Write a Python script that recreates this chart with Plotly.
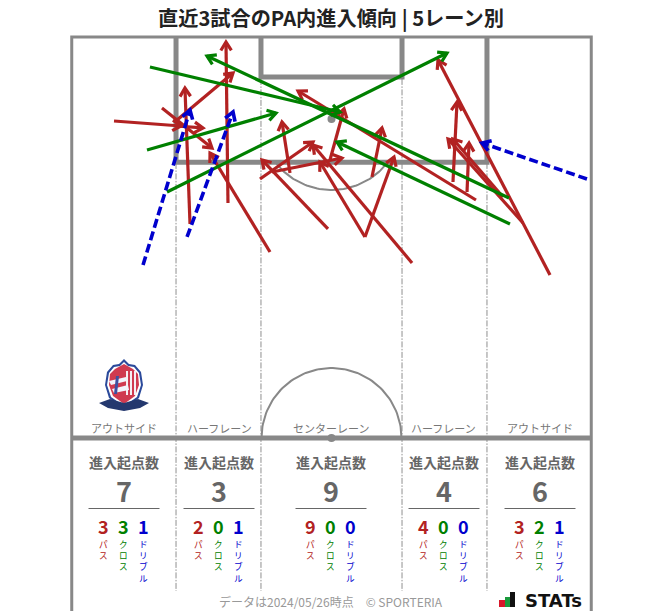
import numpy as np
import plotly.graph_objects as go

W, H = 663, 611
SCALE = 7.64          # pixels per metre
CX, CY = 331.5, 438   # halfway-line centre, in pixels

# ---- data (metres: x across the pitch, y from the halfway line) ----
pass_x0 = [-28.47, -20.35, -22.19, -20.22, -18.52, -13.55, -8.05, -0.46, -9.36, -7.79, -5.43, 4.38, 4.38, 10.54, 5.30, -0.20, 18.91, 15.90, 17.74, 25.07, 22.45, 28.60]
pass_y0 = [41.49, 40.84, 43.19, 41.62, 28.01, 30.76, 24.35, 27.36, 33.90, 34.82, 34.69, 26.31, 26.31, 22.91, 34.16, 36.39, 31.15, 33.51, 32.20, 28.14, 31.54, 21.34]
pass_x1 = [-19.70, -16.82, -15.64, -12.89, -19.18, -13.81, -15.90, -9.10, -2.42, 1.37, -6.48, -1.51, 8.18, -2.42, 6.61, 1.64, -4.38, 16.43, 18.00, 15.25, 15.90, 13.94]
pass_y1 = [40.84, 40.58, 37.96, 47.77, 45.81, 51.83, 37.30, 36.39, 38.74, 36.65, 41.36, 36.13, 36.78, 38.35, 40.58, 43.06, 45.42, 43.98, 38.61, 39.14, 39.14, 49.48]

cross_x0 = [-23.76, -24.15, -21.53, 23.23, 23.36]
cross_y0 = [48.56, 37.70, 32.20, 31.41, 28.01]
cross_x1 = [1.11, -7.26, 15.12, -16.30, 0.72]
cross_y1 = [42.67, 42.54, 50.39, 50.00, 38.74]

dribble_x0 = [-24.67, -18.91, 33.44]
dribble_y0 = [22.64, 26.31, 33.90]
dribble_x1 = [-18.52, -12.89, 19.70]
dribble_y1 = [42.93, 42.67, 38.61]

lane_names = ["アウトサイド", "ハーフレーン", "センターレーン", "ハーフレーン", "アウトサイド"]
lane_totals = [7, 3, 9, 4, 6]
lane_pass = [3, 2, 9, 4, 3]
lane_cross = [3, 0, 0, 0, 2]
lane_dribble = [1, 1, 0, 0, 1]
type_names = ["パス", "クロス", "ドリブル"]

RED, GREEN, BLUE = "#b22222", "#008000", "#0000cd"
GREY = "#888888"
TEXT = "#666666"
FONT = "Noto Sans CJK JP"

fig = go.Figure()


def line(x, y, color=GREY, width=5, dash="solid"):
    fig.add_trace(go.Scatter(x=x, y=y, mode="lines", hoverinfo="skip",
                             line=dict(color=color, width=width, dash=dash)))


# ---- pitch ----
for lx in (-20.35, -9.23, 9.23, 20.35):
    line([lx, lx], [52.5, -20.03], "#8f8f8f", 1, "6px,1.5px,1.5px,1.5px")
t = np.linspace(0, np.pi, 80)
line(9.16 * np.cos(t), 9.16 * np.sin(t), GREY, 2)
t = np.linspace(np.pi * 1.208, np.pi * 1.792, 60)
line(9.29 * np.cos(t), 41.75 + 9.29 * np.sin(t), GREY, 2)
line([-20.35, -20.35, 20.35, 20.35], [52.5, 36.1, 36.1, 52.5])
line([-9.23, -9.23, 9.23, 9.23], [52.5, 47.25, 47.25, 52.5])
line([-34, -34, 34, 34], [-22.64, 52.5, 52.5, -22.64], GREY, 3)
line([-34, 34], [0, 0], GREY, 5)
fig.add_trace(go.Scatter(x=[0, 0], y=[0, 41.75], mode="markers", hoverinfo="skip",
                         marker=dict(color=GREY, size=8)))


# ---- arrows ----
def arrows(x0, y0, x1, y1, color, width, dash="solid", head=1.3, angle=np.radians(32)):
    sx, sy, hx, hy = [], [], [], []
    for a, b, c, d in zip(x0, y0, x1, y1):
        sx += [a, c, None]
        sy += [b, d, None]
        th = np.arctan2(b - d, a - c)
        hx += [c + head * np.cos(th + angle), c, c + head * np.cos(th - angle), None]
        hy += [d + head * np.sin(th + angle), d, d + head * np.sin(th - angle), None]
    line(sx, sy, color, width, dash)
    line(hx, hy, color, width)


arrows(pass_x0, pass_y0, pass_x1, pass_y1, RED, 3.2)
arrows(cross_x0, cross_y0, cross_x1, cross_y1, GREEN, 3.2)
arrows(dribble_x0, dribble_y0, dribble_x1, dribble_y1, BLUE, 3.6, "9px,4px")


# ---- text helpers (pixel position -> paper) ----
def text(px, py, s, size, color=TEXT, bold=False, yanchor="middle", family=FONT):
    fig.add_annotation(x=px / W, y=1 - py / H, xref="paper", yref="paper", text=f"<b>{s}</b>" if bold else s,
                       showarrow=False, xanchor="center", yanchor=yanchor, borderpad=0,
                       font=dict(family=family, size=size, color=color))


def mx(px):
    return (px - CX) / SCALE


def my(py):
    return (CY - py) / SCALE


def polygon(points, fill):
    path = "M" + "L".join(f"{mx(a):.3f},{my(b):.3f}" for a, b in points) + "Z"
    fig.add_shape(type="path", path=path, xref="x", yref="y", fillcolor=fill,
                  line=dict(width=0), layer="above")


text(331, 18, "直近3試合のPA内進入傾向 | 5レーン別", 20.2, "#222222", True)

centers = [124, 219, 331, 444, 540]
for c, name, total, p, k, d in zip(centers, lane_names, lane_totals, lane_pass, lane_cross, lane_dribble):
    text(c, 428, name, 11, "#777777")
    text(c, 462, "進入起点数", 14, TEXT, True)
    text(c, 490, str(total), 27, TEXT, True)
    fig.add_shape(type="line", xref="paper", yref="paper", x0=(c - 35.5) / W, x1=(c + 35.5) / W,
                  y0=1 - 508.5 / H, y1=1 - 508.5 / H, line=dict(color=TEXT, width=1))
    for off, val, col, label in zip((-20, 0, 20), (p, k, d), (RED, GREEN, BLUE), type_names):
        text(c - 0.8 + off, 526, str(val), 18, col, True)
        text(c - 0.8 + off, 536.5, "<br>".join(label), 8.6, col, yanchor="top")

text(331, 611, "データは2024/05/26時点　© SPORTERIA", 12, "#999999", yanchor="bottom")

# ---- club crest (approximate drawing) ----
polygon([(124, 359), (129, 364), (135, 365), (141, 372), (143, 385), (139, 398), (124, 409),
         (109, 398), (105, 385), (107, 372), (113, 365), (119, 364)], "#2b4a9b")
polygon([(124, 362), (128, 366), (134, 367), (139, 373), (141, 385), (137, 397), (124, 406),
         (111, 397), (107, 385), (109, 373), (114, 367), (120, 366)], "#ffffff")
polygon([(124, 364), (133, 369), (138, 374), (139, 385), (135, 396), (124, 404),
         (113, 396), (109, 385), (110, 374), (115, 369)], "#cf3a50")
for px0 in (126, 130, 134):
    polygon([(px0, 371), (px0 + 2, 371), (px0 + 2, 395), (px0, 395)], "#f4f0f4")
polygon([(109, 381), (126, 377), (127, 381), (111, 385)], "#f2f3fb")
polygon([(112, 389), (128, 385), (129, 390), (114, 393)], "#f2f3fb")
polygon([(116, 376), (119, 376), (117, 394), (114, 394)], "#3d4fa0")
polygon([(99, 403), (110, 399), (124, 403), (138, 399), (149, 403), (140, 408), (124, 411), (108, 408)], "#24386e")

# ---- STATS logo ----
polygon([(499, 600), (505, 600), (505, 607), (499, 607)], "#d7182a")
polygon([(505, 597), (510, 597), (510, 607), (505, 607)], "#1a9a3c")
polygon([(510, 592), (515, 592), (515, 607), (510, 607)], "#111111")
text(553, 600, "STATs", 18, "#111111", True, family="DejaVu Sans")

fig.update_layout(
    width=W, height=H, margin=dict(l=0, r=0, t=0, b=0), showlegend=False,
    paper_bgcolor="white", plot_bgcolor="white",
    xaxis=dict(range=[mx(0), mx(W)], visible=False, fixedrange=True),
    yaxis=dict(range=[my(H), my(0)], visible=False, fixedrange=True),
)
fig.write_html("out.html", config=dict(displayModeBar=False),
               post_script="document.body.style.margin='0';document.body.style.overflow='hidden';")
